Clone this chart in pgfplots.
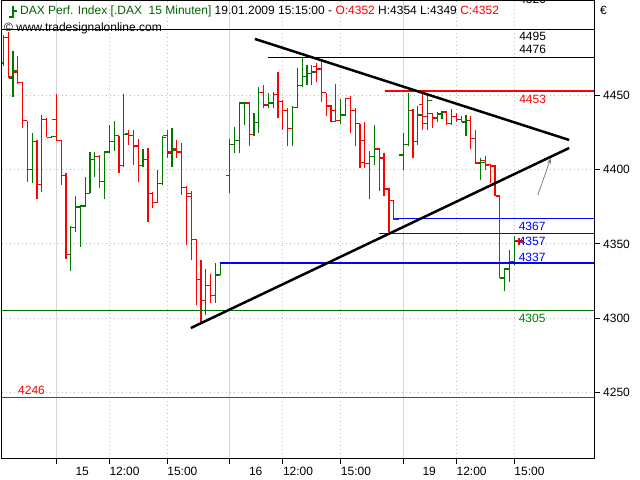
\documentclass[border=0pt]{standalone}
\usepackage{fontspec}
\setmainfont{Liberation Sans}
\usepackage{pgfplots}
\usepackage{pgfplotstable}
\pgfplotsset{compat=1.18}
\usetikzlibrary{arrows.meta}

\definecolor{barup}{RGB}{0,120,0}
\definecolor{bardn}{RGB}{255,0,0}
\definecolor{gridgray}{RGB}{190,190,190}
\definecolor{sepgray}{RGB}{215,215,215}
\definecolor{lvlgreen}{RGB}{0,110,0}
\definecolor{lblgreen}{RGB}{0,128,0}
\definecolor{hdrgreen}{RGB}{0,100,0}

% slot x: 15-minute bar slots (day 14: 0-10, day 15: 11-46, day 16: 47-82, day 19: 83-107)
\pgfplotstableread{
x o h l c
0 4472 4491 4470 4489
2 4462 4480 4449 4467
6 4400 4425 4391 4419
8 4390 4437 4385 4434
10 4422 4422.5 4421.5 4422.3
14 4343 4362 4332 4361
15 4361 4382 4358 4375
16 4374.5 4376 4348 4375.5
17 4375.5 4395 4375 4384
18 4384 4412 4384 4407
19 4407 4412 4395 4409
21 4392 4413 4380 4412
22 4412 4430 4411 4419
23 4419 4433 4413 4423
25 4403 4451 4402 4424
29 4403 4414 4402 4407
32 4378 4400 4378 4391
33 4391 4423 4390 4422
35 4411 4428 4402 4413
42 4312 4333 4302 4322
44 4315 4337 4310 4329
45 4329 4338 4329 4337
46 4337 4337.5 4336.5 4337.2
47 4396 4421 4384 4417
48 4417 4429 4411 4420
49 4420 4446 4411 4445
50 4444.5 4446 4430 4445
52 4424 4438 4423 4432
53 4432 4456 4425 4452
55 4443.5 4452 4442 4445
56 4445 4452.5 4442 4451
60 4428 4443 4416 4442
61 4442 4469 4442 4457
62 4457 4476 4456 4463
63 4463 4471 4457 4465
64 4465 4471 4457 4466
70 4433 4448 4431 4437
71 4437 4448.5 4436.5 4448
76 4404 4413 4380 4409
77 4409 4430 4403 4414
82 4366.5 4367.5 4366 4367
83 4410 4425 4400 4417
84 4417 4452 4416 4440
86 4419 4443 4417 4437
88 4431 4452 4427 4447
90 4435 4439 4432 4438
91 4437.5 4440 4434 4439
93 4431 4441 4430 4436
96 4432 4437 4423 4433
99 4404 4408 4393 4405
104 4327 4334 4318 4333.5
105 4333 4346 4324 4338
106 4338 4355 4336 4352
}\upbars

\pgfplotstableread{
x o h l c
1 4489 4493 4462 4463
3 4466 4477 4458 4459
4 4459 4459 4428 4433
5 4433 4433 4392 4400
7 4419 4420 4380 4390
9 4434 4435 4422 4422
11 4434 4451 4420 4420
12 4420 4420 4390 4396
13 4396 4398 4340 4343
20 4409 4410 4388 4392
24 4423 4423 4398 4403
26 4424.5 4427 4417 4423
27 4423 4427 4403 4416
28 4416 4421 4392 4403
30 4407 4415 4365 4384
31 4384 4385 4374 4378
34 4423 4427 4408 4412
36 4414 4420 4408 4412
37 4412 4418 4383 4388
38 4388 4389 4349 4382
39 4384 4386 4339 4353
40 4353 4353 4309 4326
41 4326 4339 4297 4312
43 4322 4330 4310 4315
51 4445 4446 4416 4424
54 4452 4457 4442 4444
57 4451 4466 4435 4446
58 4446 4447 4427 4440
59 4440 4442 4416 4428
65 4469.5 4472 4459 4468
66 4468 4473 4446 4452
67 4452 4452 4436 4443
68 4443 4444 4432 4432.5
69 4440 4458 4432 4433
72 4448 4450 4425 4440
73 4440 4441.5 4416 4431
74 4431 4431 4401 4405
75 4420 4432 4401 4404
78 4414 4415 4386 4408
79 4408 4411 4382 4387
80 4387.5 4388 4358 4379
81 4379 4379 4366 4366.5
85 4440 4441 4408 4419
87 4444 4451 4427 4436
89 4438 4438.5 4428 4435
92 4439 4440 4430 4431
94 4436 4438 4432 4434
95 4434 4436 4432 4432.5
97 4433 4436 4414 4421
98 4421 4427 4404 4405
100 4406 4409 4400 4403
101 4403.5 4404 4391 4402.5
102 4402 4403 4382 4382.5
103 4382 4383 4327 4327.5
107 4352 4354 4349 4352
}\dnbars

\newcommand{\lblfont}{\fontsize{12bp}{14bp}\selectfont}

\begin{document}
\begin{tikzpicture}
\path[use as bounding box] (-2bp,-22bp) rectangle (638bp,458bp);
\begin{axis}[
  at={(0,0)}, anchor=south west,
  scale only axis, width=592bp, height=457bp,
  xmin=-0.27, xmax=122.55, ymin=4205.5, ymax=4513.9,
  axis line style={black, line width=1bp},
  clip mode=individual,
  xtick={22,34,58,70,94,106},
  xticklabels={12:00,15:00,12:00,15:00,12:00,15:00},
  extra x ticks={11,47,83},
  extra x tick labels={15,16,19},
  extra x tick style={xticklabel style={xshift=19bp}, major grid style={solid, sepgray, line width=1bp}},
  xticklabel style={anchor=north west, inner sep=0pt, yshift=-3bp},
  ytick={4250,4300,4350,4400,4450},
  yticklabel style={anchor=west, inner sep=0pt, xshift=3bp},
  xtick pos=bottom, ytick pos=right, yticklabel pos=right,
  tick align=outside,
  major tick length=6bp,
  tick style={black, line width=0.8bp},
  grid=major,
  major grid style={gridgray, line width=0.8bp, dash pattern=on 0.8bp off 3.2bp},
  /pgf/number format/1000 sep={},
  /pgf/number format/assume math mode=true,
  ticklabel style={font=\lblfont},
]
% up bars
\addplot[barup, line width=1.2bp, quiver={u=0, v={\thisrow{h}-\thisrow{l}}}] table[x=x, y=l] {\upbars};
\addplot[barup, line width=1.2bp, quiver={u=-0.85, v=0}] table[x=x, y=o] {\upbars};
\addplot[barup, line width=1.2bp, quiver={u=0.85, v=0}] table[x=x, y=c] {\upbars};
% down bars
\addplot[bardn, line width=1.2bp, quiver={u=0, v={\thisrow{h}-\thisrow{l}}}] table[x=x, y=l] {\dnbars};
\addplot[bardn, line width=1.2bp, quiver={u=-0.85, v=0}] table[x=x, y=o] {\dnbars};
\addplot[bardn, line width=1.2bp, quiver={u=0.85, v=0}] table[x=x, y=c] {\dnbars};
% horizontal levels
\addplot[black, line width=1bp] coordinates {(-0.27,4495) (122.55,4495)};
\addplot[black, line width=1bp] coordinates {(54.9,4476) (122.55,4476)};
\addplot[red, line width=2bp] coordinates {(79.2,4453) (122.55,4453)};
\addplot[blue, line width=1bp] coordinates {(81.1,4367) (122.55,4367)};
\addplot[blue, line width=1bp] coordinates {(78.0,4357) (122.55,4357)};
\addplot[blue, line width=2bp] coordinates {(45.0,4337) (122.55,4337)};
\addplot[lvlgreen, line width=1bp] coordinates {(-0.27,4305) (122.55,4305)};
\addplot[red, line width=1bp] coordinates {(-0.27,4246) (122.55,4246)};
% triangle trendlines
\addplot[black, line width=2.5bp] coordinates {(52.2,4488.3) (117.4,4420.1)};
\addplot[black, line width=2.5bp] coordinates {(38.9,4293.2) (117.4,4414.7)};
% arrow
\addplot[gray, line width=0.8bp, -{Stealth[length=6bp,width=4bp]}] coordinates {(110.9,4383) (113.6,4408)};
% level labels
\node[anchor=west, inner sep=0pt, font=\lblfont, black] at (axis cs:107,4520) [yshift=-7bp] {4520};
\node[anchor=west, inner sep=0pt, font=\lblfont, black] at (axis cs:107,4495) [yshift=-7bp] {4495};
\node[anchor=west, inner sep=0pt, font=\lblfont, black] at (axis cs:107,4476) [yshift=7.5bp] {4476};
\node[anchor=west, inner sep=0pt, font=\lblfont, red] at (axis cs:107,4453) [yshift=-8.5bp] {4453};
\node[anchor=west, inner sep=0pt, font=\lblfont, blue] at (axis cs:106.9,4367) [yshift=-8bp] {4367};
\node[anchor=west, inner sep=0pt, font=\lblfont, blue] at (axis cs:106.9,4357) [yshift=-7.5bp] {4357};
\node[anchor=west, inner sep=0pt, font=\lblfont, blue] at (axis cs:106.9,4337) [yshift=6bp] {4337};
\node[anchor=west, inner sep=0pt, font=\lblfont, lblgreen] at (axis cs:106.9,4305) [yshift=-8bp] {4305};
\node[anchor=west, inner sep=0pt, font=\lblfont, red] at (axis cs:3.05,4246) [yshift=8bp] {4246};
\end{axis}
% header
\draw[barup, line width=1.2bp] ([xshift=11bp,yshift=-5bp]current axis.north west) -- ([xshift=11bp,yshift=-17bp]current axis.north west);
\draw[barup, line width=1.2bp] ([xshift=7bp,yshift=-16bp]current axis.north west) -- ([xshift=11bp,yshift=-16bp]current axis.north west);
\draw[barup, line width=1.2bp] ([xshift=11bp,yshift=-10bp]current axis.north west) -- ([xshift=15bp,yshift=-10bp]current axis.north west);
\node[anchor=west, inner sep=0pt, font=\lblfont] at ([xshift=18bp,yshift=-10bp]current axis.north west)
  {\textcolor{hdrgreen}{DAX Perf. Index [.DAX\ \ 15 Minuten]} 19.01.2009 15:15:00 - \textcolor{red}{O:4352} H:4354 L:4349 \textcolor{red}{C:4352}};
\node[anchor=west, inner sep=0pt, font=\lblfont] at ([xshift=2bp,yshift=-27bp]current axis.north west) {© www.tradesignalonline.com};
\node[anchor=center, inner sep=0pt, font=\lblfont] at ([xshift=9.5bp,yshift=-9bp]current axis.north east) {€};
\end{tikzpicture}
\end{document}
